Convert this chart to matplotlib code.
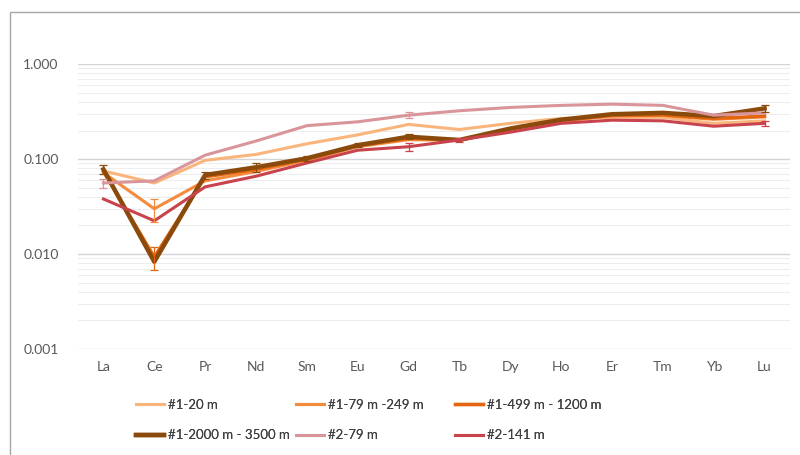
import matplotlib
matplotlib.use("Agg")
import matplotlib.pyplot as plt
from matplotlib.patches import Rectangle
import numpy as np

plt.rcParams['font.family'] = ['Lato', 'DejaVu Sans']

elements = ["La", "Ce", "Pr", "Nd", "Sm", "Eu", "Gd", "Tb", "Dy", "Ho", "Er", "Tm", "Yb", "Lu"]

s_1_20 = [0.075, 0.056, 0.097, 0.112, 0.145, 0.180, 0.232, 0.205, 0.238, 0.268, 0.275, 0.275, 0.238, 0.253]
s_1_79 = [0.072, 0.030, 0.059, 0.074, 0.097, 0.135, 0.160, 0.158, 0.205, 0.250, 0.285, 0.288, 0.262, 0.278]
s_1_499 = [0.074, 0.0093, 0.065, 0.078, 0.100, 0.138, 0.166, 0.158, 0.207, 0.255, 0.290, 0.292, 0.268, 0.284]
s_1_2000 = [0.078, 0.0083, 0.068, 0.082, 0.102, 0.140, 0.172, 0.159, 0.210, 0.260, 0.297, 0.307, 0.284, 0.342]
s_2_79 = [0.056, 0.059, 0.110, 0.155, 0.225, 0.247, 0.290, 0.323, 0.350, 0.368, 0.379, 0.368, 0.290, 0.307]
s_2_141 = [0.038, 0.0224, 0.051, 0.066, 0.091, 0.124, 0.135, 0.159, 0.192, 0.238, 0.257, 0.253, 0.222, 0.238]

# error bars (absolute), nan = none
nan = np.nan
e_1_79 = [nan, 0.008, nan, nan, nan, nan, nan, nan, nan, nan, nan, nan, nan, nan]
e_1_499 = [nan, 0.0025, nan, nan, nan, nan, nan, nan, nan, nan, nan, nan, nan, nan]
e_1_2000 = [0.008, nan, 0.006, 0.009, 0.006, 0.006, 0.010, nan, nan, nan, nan, nan, nan, 0.025]
e_2_79 = [0.006, nan, nan, nan, nan, nan, 0.020, nan, nan, nan, nan, nan, nan, nan]
e_2_141 = [nan, nan, nan, nan, nan, nan, 0.012, 0.008, nan, nan, nan, nan, nan, 0.015]

labels = ["#1-20 m", "#1-79 m -249 m", "#1-499 m - 1200 m", "#1-2000 m - 3500 m", "#2-79 m", "#2-141 m"]
colors = ["#F9B57C", "#F58B3C", "#E2650F", "#8A4A0C", "#D9959A", "#C9434D"]
widths = [2.2, 2.2, 2.4, 3.2, 2.2, 2.2]

fig = plt.figure(figsize=(8, 4.55), dpi=100)
ax = fig.add_axes([0.0975, 0.233, 0.89, 0.626])

x = np.arange(len(elements))
series = [s_1_20, s_1_79, s_1_499, s_1_2000, s_2_79, s_2_141]
errs = [None, e_1_79, e_1_499, e_1_2000, e_2_79, e_2_141]
handles = []
for s, e, c, w, lab in zip(series, errs, colors, widths, labels):
    h, = ax.plot(x, s, color=c, lw=w, label=lab, zorder=3)
    handles.append(h)
    if e is not None:
        ax.errorbar(x, s, yerr=e, fmt="none", ecolor=c, elinewidth=0.9, capsize=3, capthick=0.9, zorder=4)

ax.set_yscale("log")
ax.set_ylim(0.001, 1.0)
ax.set_xlim(-0.5, 13.5)
ax.set_xticks(x)
ax.set_xticklabels(elements)
ax.set_yticks([0.001, 0.01, 0.1, 1.0])
ax.set_yticklabels(["0.001", "0.010", "0.100", "1.000"])
ax.yaxis.set_minor_formatter(plt.NullFormatter())
ax.grid(True, which="major", axis="y", color="#D4D4D4", lw=1.0)
ax.grid(True, which="minor", axis="y", color="#EDEDED", lw=0.8)
ax.set_axisbelow(True)
for sp in ax.spines.values():
    sp.set_visible(False)
ax.tick_params(which="both", length=0, colors="#595959", labelsize=10)
ax.tick_params(axis="y", pad=14)
ax.tick_params(axis="x", pad=9)

# legend: three columns placed like the original (two rows)
col_x = [136, 296, 455]
for k, px in enumerate(col_x):
    idx = [k, k + 3]
    leg = fig.legend([handles[i] for i in idx], [labels[i] for i in idx],
                     loc="upper left", bbox_to_anchor=(px / 800, 1 - 399 / 455),
                     frameon=False, fontsize=9.5, handlelength=2.1, handletextpad=0.35,
                     labelspacing=1.4, borderpad=0, borderaxespad=0, labelcolor="#404040")
    fig.add_artist(leg)

fig.patches.append(Rectangle((10 / 800, -0.1), 1.2, 1 - 12 / 455 + 0.1, transform=fig.transFigure,
                             fill=False, edgecolor="#A6A6A6", lw=1.0))

fig.savefig("out.png", dpi=100)
